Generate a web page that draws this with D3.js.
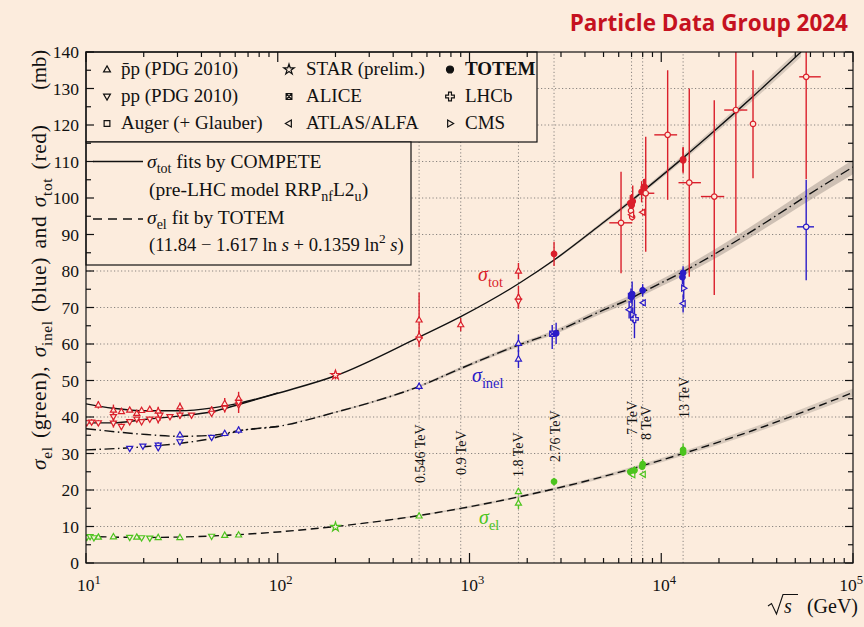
<!DOCTYPE html>
<html><head><meta charset="utf-8">
<script src="https://cdn.jsdelivr.net/npm/d3@7/dist/d3.min.js"></script>
<style>body{margin:0;background:#fcecdd;} svg{display:block}</style>
</head><body><svg id="c" width="864" height="627"></svg>
<script>
// ---------------- DATA ----------------
const TITLE = "Particle Data Group 2024";
const X_DECADES = [10, 100, 1000, 10000, 100000];
const X_EXPONENTS = ["1", "2", "3", "4", "5"];
const Y_TICKS = [0,10,20,30,40,50,60,70,80,90,100,110,120,130,140];
const GRID_Y = [10,20,30,40,50,60,70,80,90,100,110,120,130];
const ENERGY_LINES = [546, 900, 1800, 2760, 7000, 8000, 13000];
const ENERGY_LABELS = ["0.546 TeV","0.9 TeV","1.8 TeV","2.76 TeV","7 TeV","8 TeV","13 TeV"];

// sigma_tot COMPETE fit, pp branch and pbar-p branch (sqrt(s) GeV, mb)
const totCurveE = [10, 13.8, 20.7, 30.9, 45.9, 63.3, 100, 200, 546, 900, 1800, 2760, 4750, 7000, 8000, 13000, 18000, 24500, 30500, 53600];
const totCurveV = [38.4, 38.4, 39.4, 40.3, 41.5, 43.5, 46.5, 51.3, 61.9, 67.5, 76.5, 83.0, 92.4, 99.3, 101.8, 111.0, 117.4, 123.6, 128.1, 140.0];
const totBandHalf = [0,0,0,0,0,0,0,0,0,0,0,0.3,0.5,0.6,0.6,0.8,0.9,1.0,1.1,1.3];
const totPbarE = [10, 13.8, 20.7, 30.9, 45.9, 63.3, 100];
const totPbarV = [43.6, 42.4, 41.7, 41.7, 42.5, 43.8, 46.6];

// sigma_inel curve
const inelCurveE = [10, 20.7, 30.9, 45.9, 63.3, 100, 200, 546, 900, 1800, 2760, 4750, 7000, 8000, 13000, 19500, 35500, 57000, 100000];
const inelCurveV = [31.0, 31.9, 32.8, 34.2, 36.2, 37.4, 41.3, 48.4, 53.3, 59.7, 63.2, 68.8, 72.6, 74.2, 79.8, 85.0, 93.5, 100.5, 108.5];
const inelBandHalf = [0,0,0,0,0,0,0.2,0.3,0.4,0.5,0.6,0.8,0.9,0.9,1.1,1.3,1.5,1.7,2.0];
const inelPbarE = [10, 20.7, 30.9, 45.9, 63.3, 100];
const inelPbarV = [36.8, 35.2, 34.7, 35.0, 36.3, 37.4];

// sigma_el TOTEM fit curve
const elCurveE = [10, 20, 30, 50, 100, 200, 546, 1000, 1800, 2760, 7000, 13000, 30000, 100000];
const elCurveV = [7.3, 7.0, 7.1, 7.5, 8.5, 10.0, 13.0, 15.4, 18.1, 20.3, 25.8, 30.0, 36.3, 46.7];
const elBandHalf = [0,0,0,0,0,0,0.2,0.3,0.3,0.4,0.5,0.6,0.8,1.1];

// points: [sqrt(s), value, err-, err+, marker]
const totPoints = [
 [10.1,38.4,0.8,0.8,'td'],[10.7,38.6,0.8,0.8,'td'],[11.6,38.4,0.8,0.8,'td'],[11.6,43.3,1.0,1.0,'tu'],
 [13.9,41.9,1.5,1.5,'tu'],[13.9,38.3,1.2,1.2,'td'],[13.9,40.1,1.0,1.0,'td'],
 [15.3,41.5,0.6,0.6,'tu'],[15.3,37.4,0.8,0.8,'td'],[16.9,41.9,0.6,0.6,'tu'],[16.9,38.7,0.6,0.6,'td'],
 [18.4,41.0,0.6,0.6,'tu'],[18.4,39.4,0.6,0.6,'td'],[19.5,41.8,0.5,0.5,'tu'],[19.5,38.7,0.5,0.5,'td'],
 [21.5,42.1,0.6,0.6,'tu'],[21.5,39.4,0.6,0.6,'td'],[23.8,41.6,1.2,1.2,'tu'],[23.8,39.4,1.2,1.2,'td'],
 [24.3,40.5,1.5,1.5,'td'],[27.4,40.1,0.5,0.5,'td'],[30.9,42.8,1.2,1.2,'tu'],[30.9,40.5,1.0,1.0,'td'],
 [35.5,40.5,0.4,0.4,'td'],[45.2,41.9,1.0,1.0,'tu'],[45.2,41.0,0.5,0.5,'td'],
 [52.9,43.7,1.5,1.5,'tu'],[52.9,42.4,1.2,1.2,'td'],[62.5,45.1,1.8,1.8,'tu'],[62.5,43.3,2.2,2.2,'td'],[62.5,44.0,1.0,1.0,'td'],
 [200,51.5,1.2,1.2,'st'],
 [546,66.6,7.5,7.5,'tu'],[546,62.2,1.5,1.5,'tu'],[546,61.3,0.9,0.9,'td'],
 [900,65.3,1.8,1.8,'tu'],
 [1800,80.0,2.2,2.2,'tu'],[1800,72.8,3.1,3.1,'tu'],[1800,71.7,2.0,2.0,'td'],
 [2760,84.7,3.3,3.3,'C'],
 [6950,96.5,1.0,1.0,'c'],[7050,94.8,1.0,1.0,'c'],[7000,95.4,1.4,1.4,'tl'],
 [7000,98.3,2.8,2.8,'C'],[6900,98.6,2.2,2.2,'C'],[7100,99.1,4.3,4.3,'C'],[7000,98.0,2.5,2.5,'C'],
 [8000,96.1,0.9,0.9,'tl'],[7900,101.7,2.9,2.9,'C'],[8100,102.9,2.3,2.3,'C'],[8200,103.0,2.3,2.3,'C'],
 [13000,110.6,3.4,3.4,'C'],[13000,110.3,3.5,3.5,'C']
];
// cosmic-ray / Auger points with horizontal errors: [sqrt(s), value, err-, err+, sqrt(s) low, sqrt(s) high, marker]
const totCosmic = [
 [6170,93.2,13.8,14.0,5360,7060,'c'],
 [8300,101.3,16.0,15.5,7700,9200,'c'],
 [10800,117.3,17.8,17.7,9200,12100,'c'],
 [14000,104.2,25.8,25.8,12300,16100,'c'],
 [18900,100.4,27.0,26.4,16100,21300,'c'],
 [24500,124.1,33.7,20.0,21300,28100,'c'],
 [30100,120.3,14.9,14.7,30100,30100,'c'],
 [57000,133.2,28.0,30.0,52400,67900,'c']
];
const inelPoints = [
 [16.9,31.4,0.6,0.6,'td'],[19.8,32.0,0.6,0.6,'td'],[23.8,32.3,0.8,0.8,'td'],[23.8,31.6,0.8,0.8,'td'],
 [30.9,33.2,0.6,0.6,'td'],[30.9,35.1,0.8,0.8,'tu'],[45.2,34.4,0.6,0.6,'td'],[52.9,35.5,0.8,0.8,'tu'],[62.5,36.4,1.0,1.0,'tu'],
 [546,48.4,1.0,1.0,'tu'],
 [1800,60.2,2.4,2.4,'tu'],[1800,55.9,2.5,2.5,'tu'],
 [2700,62.8,4.2,2.4,'x'],[2830,62.9,2.9,2.9,'C'],
 [6950,73.2,2.0,2.0,'x'],[7000,72.9,1.5,1.5,'C'],[7050,73.7,3.4,3.4,'C'],[6800,69.4,2.4,2.4,'tl'],
 [7100,68.0,2.0,2.0,'tr'],[7250,66.9,5.3,5.3,'+'],
 [8000,74.7,1.7,1.7,'C'],[8050,71.3,0.9,0.9,'tl'],
 [13000,79.5,1.8,1.8,'C'],[12900,78.3,2.0,2.0,'C'],[13100,75.3,3.0,3.0,'tr'],[13000,71.1,2.5,2.5,'tl']
];
const inelCosmic = [
 [57000,92.1,14.6,12.9,51000,62600,'c']
];
const elPoints = [
 [10.1,7.0,0.3,0.3,'td'],[10.5,7.2,0.3,0.3,'td'],[11.0,6.9,0.3,0.3,'td'],[11.6,7.1,0.4,0.4,'tu'],
 [13.9,7.2,0.4,0.4,'tu'],[16.9,7.0,0.3,0.3,'td'],[18.4,7.1,0.3,0.3,'tu'],[19.5,6.9,0.3,0.3,'td'],
 [21.5,6.8,0.3,0.3,'td'],[23.8,7.0,0.6,0.6,'tu'],[30.9,7.0,0.4,0.4,'tu'],[45.2,7.3,0.3,0.3,'td'],
 [52.9,7.6,0.4,0.4,'tu'],[62.5,7.7,0.3,0.3,'tu'],
 [200,9.9,0.5,0.5,'st'],
 [546,12.9,0.5,0.5,'tu'],
 [1800,19.6,0.9,0.9,'tu'],[1800,16.4,1.6,1.6,'tu'],
 [2760,22.3,1.0,1.0,'C'],
 [6900,25.0,0.6,0.6,'C'],[7000,24.8,1.2,1.2,'C'],[7100,24.2,0.4,0.4,'tl'],[7250,25.4,1.1,1.1,'C'],
 [8000,27.1,1.4,1.4,'C'],[8050,24.3,0.4,0.4,'tl'],[7950,26.4,0.6,0.6,'C'],
 [13000,31.0,1.7,1.7,'C'],[13000,30.3,0.8,0.8,'C']
];

const legendMarkers = [
 ['tu',[['p\u0304p',''],[' (PDG 2010)','']]],
 ['td',[['pp (PDG 2010)','']]],
 ['sq',[['Auger (+ Glauber)','']]],
 ['st',[['STAR (prelim.)','']]],
 ['x',[['ALICE','']]],
 ['tl',[['ATLAS/ALFA','']]],
 ['C',[['TOTEM','b']]],
 ['+',[['LHCb','']]],
 ['tr',[['CMS','']]]
];

// ---------------- DRAW ----------------
const BG = '#fcecdd';
const RED = '#da1f2b', BLUE = '#2a1cc8', GREEN = '#4cc41e';
const SERIF = "'Liberation Serif','DejaVu Serif',serif";
const svg = d3.select('#c');
svg.append('rect').attr('width',864).attr('height',627).attr('fill',BG);

const x = d3.scaleLog().domain([10,1e5]).range([86,853]);
const y = d3.scaleLinear().domain([0,140]).range([563,52]);

svg.append('defs').append('clipPath').attr('id','plot')
  .append('rect').attr('x',x(10)).attr('y',y(140)).attr('width',x(1e5)-x(10)).attr('height',y(0)-y(140));

function rich(t, parts, fs){
  let shift = 0;
  parts.forEach(([s, st])=>{
    const ts = t.append('tspan').text(s);
    let target = 0, f = fs;
    if(st==='sub'){ target = 0.28*fs; f = fs*0.72; }
    if(st==='sup'){ target = -0.42*fs; f = fs*0.72; }
    if(st==='i') ts.attr('font-style','italic');
    if(st==='b') ts.attr('font-weight','bold');
    ts.attr('font-size', f);
    if(target !== shift){ ts.attr('dy', target - shift); shift = target; }
  });
}

// title
svg.append('text').attr('x',848).attr('y',31).attr('text-anchor','end')
  .attr('font-family',"'Open Sans','Noto Sans',sans-serif").attr('font-weight',700)
  .attr('font-size',22.5).attr('fill','#c5121f').text(TITLE);

const plot = svg.append('g').attr('clip-path','url(#plot)');

// grid
plot.selectAll('.gy').data(GRID_Y).join('line')
  .attr('x1',x(10)).attr('x2',x(1e5)).attr('y1',d=>y(d)).attr('y2',d=>y(d))
  .attr('stroke','#8a8580').attr('stroke-width',1).attr('stroke-dasharray','1.2,2.3');
plot.selectAll('.gx').data(ENERGY_LINES).join('line')
  .attr('x1',d=>x(d)).attr('x2',d=>x(d)).attr('y1',y(0)).attr('y2',y(140))
  .attr('stroke','#8a8580').attr('stroke-width',1).attr('stroke-dasharray','1.2,2.3');

// bands and curves
function band(E, V, H, color){
  const pts = E.map((e,i)=>[e,V[i],H[i]]).filter((d,i)=>H[i]>0 || (i+1<H.length && H[i+1]>0));
  plot.append('path').datum(pts)
    .attr('d', d3.area().x(d=>x(d[0])).y0(d=>y(d[1]-d[2])).y1(d=>y(d[1]+d[2])).curve(d3.curveMonotoneX))
    .attr('fill',color).attr('stroke','none');
}
band(totCurveE, totCurveV, totBandHalf, 'rgba(150,140,130,0.35)');
band(inelCurveE, inelCurveV, inelBandHalf, 'rgba(150,140,130,0.45)');
band(elCurveE, elCurveV, elBandHalf, 'rgba(150,140,130,0.35)');

const line = d3.line().x(d=>x(d[0])).y(d=>y(d[1])).curve(d3.curveMonotoneX);
function curve(E, V, dash, w){
  plot.append('path').datum(E.map((e,i)=>[e,V[i]])).attr('d',line)
    .attr('fill','none').attr('stroke','#111').attr('stroke-width',w)
    .attr('stroke-dasharray',dash);
}
curve(totCurveE, totCurveV, null, 1.4);
curve(totPbarE, totPbarV, null, 1.4);
curve(inelCurveE, inelCurveV, '10,3.5,1.5,3.5', 1.4);
curve(inelPbarE, inelPbarV, '10,3.5,1.5,3.5', 1.4);
curve(elCurveE, elCurveV, '8,4.5', 1.4);

// markers
function markerPath(t, s){
  switch(t){
    case 'tu': return `M0,${-s}L${s*0.95},${s*0.65}L${-s*0.95},${s*0.65}Z`;
    case 'td': return `M0,${s}L${s*0.95},${-s*0.65}L${-s*0.95},${-s*0.65}Z`;
    case 'tl': return `M${-s},0L${s*0.65},${-s*0.95}L${s*0.65},${s*0.95}Z`;
    case 'tr': return `M${s},0L${-s*0.65},${-s*0.95}L${-s*0.65},${s*0.95}Z`;
    case 'sq': { const a=s*0.8; return `M${-a},${-a}H${a}V${a}H${-a}Z`; }
    case 'st': return d3.symbol(d3.symbolStar, s*s*2.6)();
    case '+': return d3.symbol(d3.symbolCross, s*s*3.2)();
    case 'x': { const a=s*0.8; return `M${-a},${-a}H${a}V${a}H${-a}ZM${-a},${-a}L${a},${a}M${a},${-a}L${-a},${a}`; }
    default: return d3.symbol(d3.symbolCircle, Math.PI*s*s*0.7)();
  }
}
function marker(g, t, cx, cy, color, s){
  g.append('path').attr('d', markerPath(t, s)).attr('transform',`translate(${cx},${cy})`)
    .attr('fill', t==='C' ? color : BG).attr('stroke', color).attr('stroke-width',1.2);
}
function points(P, color){
  const g = plot.append('g');
  P.forEach(p=>{
    g.append('line').attr('x1',x(p[0])).attr('x2',x(p[0]))
      .attr('y1',y(p[1]-p[2])).attr('y2',y(p[1]+p[3]))
      .attr('stroke',color).attr('stroke-width',1.4);
  });
  P.forEach(p=>marker(g, p[4], x(p[0]), y(p[1]), color, p[4]==='C'?3.3:3.2));
}
function cosmic(P, color){
  const g = plot.append('g');
  P.forEach(p=>{
    g.append('line').attr('x1',x(p[0])).attr('x2',x(p[0]))
      .attr('y1',y(p[1]-p[2])).attr('y2',y(p[1]+p[3]))
      .attr('stroke',color).attr('stroke-width',1.4);
    g.append('line').attr('x1',x(p[4])).attr('x2',x(p[5]))
      .attr('y1',y(p[1])).attr('y2',y(p[1]))
      .attr('stroke',color).attr('stroke-width',1.4);
    marker(g, p[6], x(p[0]), y(p[1]), color, 3.3);
  });
}
points(elPoints, GREEN);
points(inelPoints, BLUE);
cosmic(inelCosmic, BLUE);
points(totPoints, RED);
cosmic(totCosmic, RED);

// energy labels
const labOff = [1,0,0,1,0,3,1];
const labBottom = [483,475,477,462,435,440,418];
ENERGY_LINES.forEach((e,i)=>{
  svg.append('text').attr('transform',`translate(${x(e)+labOff[i]},${labBottom[i]}) rotate(-90)`)
    .attr('dy','0.36em').attr('font-family',SERIF).attr('font-size',14).attr('fill','#111')
    .text(ENERGY_LABELS[i]);
});

// sigma labels
function sigLabel(xx, yy, sub, color){
  const t = svg.append('text').attr('x',xx).attr('y',yy).attr('font-family',SERIF).attr('fill',color);
  rich(t, [['\u03c3','i'],[sub,'sub']], 20);
}
sigLabel(478, 281, 'tot', RED);
sigLabel(472, 382, 'inel', BLUE);
sigLabel(479, 524, 'el', GREEN);

// legend boxes
svg.append('rect').attr('x',x(10)).attr('y',y(140)).attr('width',537-x(10)).attr('height',142-y(140))
  .attr('fill',BG).attr('stroke','#111').attr('stroke-width',1.2);
svg.append('rect').attr('x',x(10)).attr('y',142).attr('width',411-x(10)).attr('height',123)
  .attr('fill',BG).attr('stroke','#111').attr('stroke-width',1.2);

const colSym = [107, 289, 450], colTxt = [121, 306, 465], rowBase = [75, 102, 129];
legendMarkers.forEach((m,i)=>{
  const c = Math.floor(i/3), r = i%3;
  marker(svg, m[0], colSym[c], rowBase[r]-5.5, '#111', m[0]==='C'?4.2:3.6);
  const t = svg.append('text').attr('x',colTxt[c]).attr('y',rowBase[r])
    .attr('font-family',SERIF).attr('fill','#111');
  rich(t, m[1], 19);
});
// line legend
svg.append('line').attr('x1',93).attr('x2',143).attr('y1',161.5).attr('y2',161.5).attr('stroke','#111').attr('stroke-width',1.4);
svg.append('line').attr('x1',93).attr('x2',143).attr('y1',219).attr('y2',219).attr('stroke','#111').attr('stroke-width',1.4).attr('stroke-dasharray','9,6');
const lt = [
 [147,168,19.5,[['\u03c3','i'],['tot','sub'],[' fits by COMPETE','']]],
 [149,196,19.5,[['(pre-LHC model RRP',''],['nf','sub'],['L2',''],['u','sub'],[')','']]],
 [147,224,19.5,[['\u03c3','i'],['el','sub'],[' fit by TOTEM','']]],
 [149,251,18.6,[['(11.84 \u2212 1.617 ln ',''],['s','i'],[' + 0.1359 ln',''],['2','sup'],[' ',''],['s','i'],[')','']]]
];
lt.forEach(d=>{
  const t = svg.append('text').attr('x',d[0]).attr('y',d[1]).attr('font-family',SERIF).attr('fill','#111');
  rich(t, d[3], d[2]);
});

// axes frame & ticks
const ax = svg.append('g').attr('stroke','#111').attr('stroke-width',1.2);
ax.append('rect').attr('x',x(10)).attr('y',y(140)).attr('width',x(1e5)-x(10)).attr('height',y(0)-y(140)).attr('fill','none');
const minorX = [];
X_DECADES.slice(0,4).forEach(d=>{ for(let k=2;k<10;k++) minorX.push(k*d); });
X_DECADES.forEach(d=>{
  ax.append('line').attr('x1',x(d)).attr('x2',x(d)).attr('y1',y(0)).attr('y2',y(0)-10);
  ax.append('line').attr('x1',x(d)).attr('x2',x(d)).attr('y1',y(140)).attr('y2',y(140)+10);
});
minorX.forEach(d=>{
  ax.append('line').attr('x1',x(d)).attr('x2',x(d)).attr('y1',y(0)).attr('y2',y(0)-5);
  ax.append('line').attr('x1',x(d)).attr('x2',x(d)).attr('y1',y(140)).attr('y2',y(140)+5);
});
d3.range(0,141,5).forEach(v=>{
  const L = v%10===0 ? 8 : 5;
  ax.append('line').attr('x1',x(10)).attr('x2',x(10)+L).attr('y1',y(v)).attr('y2',y(v));
  ax.append('line').attr('x1',x(1e5)).attr('x2',x(1e5)-L).attr('y1',y(v)).attr('y2',y(v));
});

// tick labels
svg.selectAll('.yl').data(Y_TICKS).join('text')
  .attr('x',79).attr('y',d=>y(d)).attr('dy','0.36em').attr('text-anchor','end')
  .attr('font-family',SERIF).attr('font-size',17.5).attr('fill','#111').text(d=>d);
X_DECADES.forEach((d,i)=>{
  const last = i === X_DECADES.length-1;
  const t = svg.append('text').attr('x', last ? 863 : x(d)+3).attr('y',591)
    .attr('text-anchor', last ? 'end' : 'middle')
    .attr('font-family',SERIF).attr('fill','#111');
  rich(t, [['10',''],[X_EXPONENTS[i],'sup']], 17.5);
});

// axis titles
const yt = svg.append('text').attr('transform','translate(46,470) rotate(-90)')
  .attr('font-family',SERIF).attr('fill','#111').attr('letter-spacing',0.6).attr('word-spacing',2.5);
rich(yt, [['\u03c3','i'],['el','sub'],[' (green), ',''],['\u03c3','i'],['inel','sub'],[' (blue) and ',''],['\u03c3','i'],['tot','sub'],[' (red)','']], 21.5);
svg.append('text').attr('transform','translate(46,50) rotate(-90)').attr('text-anchor','end')
  .attr('font-family',SERIF).attr('font-size',20.5).attr('fill','#111').text('(mb)');

// sqrt(s) (GeV)
svg.append('path').attr('d','M768,606 L771.5,603.5 L776.5,614 L783,594.5 L798,594.5')
  .attr('fill','none').attr('stroke','#111').attr('stroke-width',1.1);
svg.append('text').attr('x',784).attr('y',613).attr('font-family',SERIF).attr('font-style','italic')
  .attr('font-size',20).attr('fill','#111').text('s');
svg.append('text').attr('x',858).attr('y',613).attr('text-anchor','end')
  .attr('font-family',SERIF).attr('font-size',20).attr('fill','#111').text('(GeV)');
</script></body></html>
